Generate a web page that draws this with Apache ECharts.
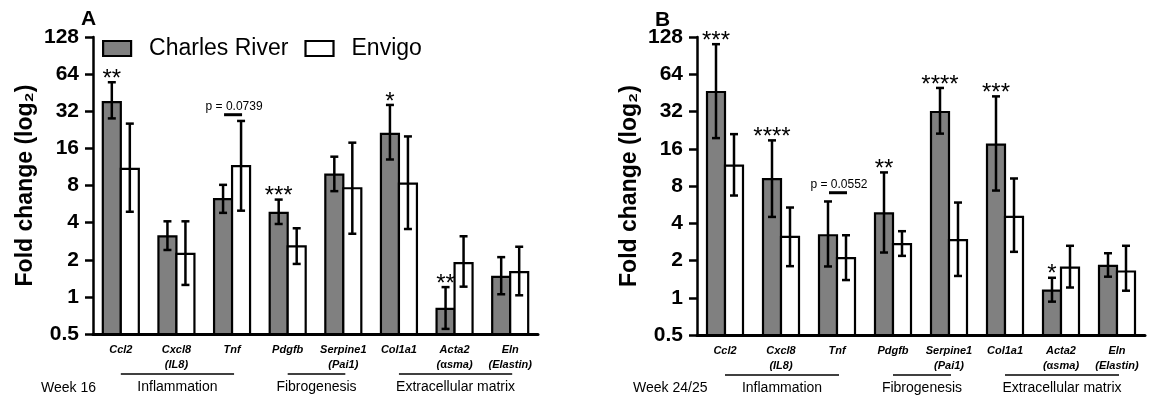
<!DOCTYPE html>
<html>
<head>
<meta charset="utf-8">
<script src="https://cdn.jsdelivr.net/npm/echarts@6/dist/echarts.min.js"></script>
<style>
  html, body { margin: 0; padding: 0; background: #fff; }
  #chart { width: 1153px; height: 399px; }
</style>
</head>
<body>
<div id="chart"></div>
<script>
// genes (x categories), second line in brackets
var genes = ['Ccl2', 'Cxcl8\n(IL8)', 'Tnf', 'Pdgfb', 'Serpine1\n(Pai1)', 'Col1a1', 'Acta2\n(αsma)', 'Eln\n(Elastin)'];

// week 16 (panel A)
var crA    = [38, 3.1, 6.2, 4.8, 9.8, 21, 0.80, 1.45];
var crALo  = [28, 2.4, 4.8, 3.9, 7.2, 13, 0.55, 1.05];
var crAHi  = [55, 4.1, 8.1, 6.15, 13.7, 36, 1.2, 2.1];
var envA   = [10.9, 2.23, 11.5, 2.57, 7.6, 8.3, 1.88, 1.59];
var envALo = [4.9, 1.25, 5.0, 1.85, 3.25, 3.55, 1.21, 1.03];
var envAHi = [25.4, 4.1, 26.7, 3.6, 17.8, 20, 3.1, 2.55];
var starsA = ['**', '', '', '***', '', '*', '**', ''];
var pA     = [[2, 30, 'p = 0.0739']];

// week 24/25 (panel B)
var crB    = [46, 9.1, 3.2, 4.8, 31.7, 17.3, 1.14, 1.81];
var crBLo  = [19.5, 4.5, 1.79, 2.32, 21.2, 7.35, 0.93, 1.48];
var crBHi  = [112, 18.7, 6.0, 10.3, 49.6, 42.4, 1.45, 2.29];
var envB   = [11.7, 3.1, 2.09, 2.71, 2.92, 4.5, 1.75, 1.63];
var envBLo = [6.7, 1.8, 1.39, 2.18, 1.5, 2.35, 1.21, 1.14];
var envBHi = [21, 5.36, 3.2, 3.45, 5.88, 9.2, 2.63, 2.63];
var starsB = ['***', '****', '', '**', '****', '***', '*', ''];
var pB     = [[2, 7.06, 'p = 0.0552']];

// groups: first gene index, last gene index
var groups = [[0, 2], [3, 4], [5, 7]];
var groupNames = ['Inflammation', 'Fibrogenesis', 'Extracellular matrix'];

var FONT = 'Liberation Sans';
var BW = 18;
var YMIN = 0.5;
var noStars = ['', '', '', '', '', '', '', ''];

var chart = echarts.init(document.getElementById('chart'));

function geneLabel(v) {
  return v.split('\n').map(function (s) {
    if (s.indexOf('α') >= 0) {
      return '{a|(}{g|α}{a|' + s.slice(2) + '}';
    }
    return '{a|' + s + '}';
  }).join('\n');
}

// bars drawn from the axis floor (0.5) up to the value
function barSeries(idx, name, data, color, offset) {
  return {
    type: 'custom', name: name, xAxisIndex: idx, yAxisIndex: idx, silent: true, z: 2,
    itemStyle: { color: color, borderColor: '#000', borderWidth: 2.2 },
    data: data.map(function (v, i) { return [i, v]; }),
    renderItem: function (params, api) {
      var top = api.coord([api.value(0), api.value(1)]);
      var bot = api.coord([api.value(0), YMIN]);
      var x = top[0] + offset - BW / 2;
      return {
        type: 'rect',
        shape: { x: x, y: top[1], width: BW, height: bot[1] - top[1] },
        style: { fill: color, stroke: '#000', lineWidth: 2.2 }
      };
    }
  };
}

function errSeries(idx, lo, hi, stars, offset) {
  return {
    type: 'custom', xAxisIndex: idx, yAxisIndex: idx, silent: true, clip: false, z: 5,
    data: lo.map(function (v, i) { return [i, v, hi[i]]; }),
    renderItem: function (params, api) {
      var i = params.dataIndex;
      var a = api.coord([api.value(0), api.value(1)]);
      var b = api.coord([api.value(0), api.value(2)]);
      var x = a[0] + offset;
      var st = { stroke: '#000', lineWidth: 2.5 };
      var kids = [
        { type: 'line', shape: { x1: x, y1: a[1], x2: x, y2: b[1] }, style: st },
        { type: 'line', shape: { x1: x - 4, y1: a[1], x2: x + 4, y2: a[1] }, style: st },
        { type: 'line', shape: { x1: x - 4, y1: b[1], x2: x + 4, y2: b[1] }, style: st }
      ];
      if (stars[i]) {
        kids.push({ type: 'text', x: x, y: b[1] - 3, style: {
          text: stars[i], fill: '#000', font: '24px "' + FONT + '"', align: 'center', verticalAlign: 'middle' } });
      }
      return { type: 'group', children: kids };
    }
  };
}

function pSeries(idx, list) {
  return {
    type: 'custom', xAxisIndex: idx, yAxisIndex: idx, silent: true, clip: false, z: 5,
    data: list.map(function (d) { return [d[0], d[1]]; }),
    renderItem: function (params, api) {
      var p = api.coord([api.value(0), api.value(1)]);
      return { type: 'group', children: [
        { type: 'line', shape: { x1: p[0] - 8, y1: p[1], x2: p[0] + 10, y2: p[1] }, style: { stroke: '#000', lineWidth: 3 } },
        { type: 'text', x: p[0] + 2, y: p[1] - 2, style: {
          text: list[params.dataIndex][2], fill: '#000', font: '12px "' + FONT + '"', align: 'center', verticalAlign: 'bottom' } }
      ] };
    }
  };
}

function groupSeries(idx) {
  return {
    type: 'custom', xAxisIndex: idx, yAxisIndex: idx, silent: true, clip: false,
    data: groups.map(function (g) { return [g[0], YMIN, g[1]]; }),
    renderItem: function (params, api) {
      var a = api.coord([api.value(0), YMIN]);
      var b = api.coord([api.value(2), YMIN]);
      return { type: 'group', children: [
        { type: 'line', shape: { x1: a[0], y1: a[1] + 40, x2: b[0] + 2, y2: a[1] + 40 }, style: { stroke: '#000', lineWidth: 1.3 } },
        { type: 'text', x: (a[0] + b[0]) / 2 + 1, y: a[1] + 53, style: {
          text: groupNames[params.dataIndex], fill: '#000', font: '14px "' + FONT + '"', align: 'center', verticalAlign: 'middle' } }
      ] };
    }
  };
}

function xAxis(idx) {
  return {
    type: 'category', gridIndex: idx, data: genes,
    axisLine: { lineStyle: { color: '#000', width: 3 } },
    axisTick: { show: false },
    axisLabel: {
      interval: 0, margin: 8, formatter: geneLabel,
      rich: {
        a: { fontFamily: FONT, fontSize: 11, fontStyle: 'italic', fontWeight: 'bold', color: '#000', lineHeight: 15 },
        g: { fontFamily: FONT, fontSize: 11, fontWeight: 'bold', color: '#000', lineHeight: 15 }
      }
    }
  };
}

function yAxis(idx) {
  return {
    type: 'log', logBase: 2, gridIndex: idx, min: YMIN, max: 128, interval: 1,
    name: 'Fold change (log₂)', nameLocation: 'middle', nameGap: 56, nameRotate: 90,
    nameTextStyle: { fontFamily: FONT, fontSize: 23, fontWeight: 'bold', color: '#000' },
    axisLine: { show: true, lineStyle: { color: '#000', width: 2.5 } },
    axisTick: { show: true, length: 8, lineStyle: { color: '#000', width: 2.5 } },
    axisLabel: { margin: 14, fontFamily: FONT, fontSize: 21, fontWeight: 'bold', color: '#000',
      formatter: function (v) { return String(+v.toPrecision(3)); } },
    splitLine: { show: false }
  };
}

chart.setOption({
  animation: false,
  backgroundColor: '#fff',
  title: [
    { text: 'A', left: 81, top: 9, padding: 0, textStyle: { fontFamily: FONT, fontSize: 21, fontWeight: 'bold', color: '#000' } },
    { text: 'B', left: 655, top: 10, padding: 0, textStyle: { fontFamily: FONT, fontSize: 21, fontWeight: 'bold', color: '#000' } },
    { text: 'Week 16', left: 41, top: 381, padding: 0, textStyle: { fontFamily: FONT, fontSize: 14, fontWeight: 'normal', color: '#000' } },
    { text: 'Week 24/25', left: 633, top: 381, padding: 0, textStyle: { fontFamily: FONT, fontSize: 14, fontWeight: 'normal', color: '#000' } }
  ],
  legend: {
    left: 102, top: 37, padding: 0, icon: 'rect', itemWidth: 28, itemHeight: 15, itemGap: 16,
    data: ['Charles River', 'Envigo'],
    itemStyle: { borderColor: '#000', borderWidth: 2.2 },
    textStyle: { fontFamily: FONT, fontSize: 23, color: '#000', padding: [0, 0, 0, 13] }
  },
  grid: [
    { left: 93, top: 37, width: 445, height: 297 },
    { left: 697, top: 37, width: 448, height: 298 }
  ],
  xAxis: [xAxis(0), xAxis(1)],
  yAxis: [yAxis(0), yAxis(1)],
  series: [
    barSeries(0, 'Charles River', crA, '#808080', -BW / 2),
    barSeries(0, 'Envigo', envA, '#ffffff', BW / 2),
    errSeries(0, crALo, crAHi, starsA, -BW / 2),
    errSeries(0, envALo, envAHi, noStars, BW / 2),
    pSeries(0, pA),
    groupSeries(0),
    barSeries(1, 'Charles River', crB, '#808080', -BW / 2),
    barSeries(1, 'Envigo', envB, '#ffffff', BW / 2),
    errSeries(1, crBLo, crBHi, starsB, -BW / 2),
    errSeries(1, envBLo, envBHi, noStars, BW / 2),
    pSeries(1, pB),
    groupSeries(1)
  ]
});
</script>
</body>
</html>
